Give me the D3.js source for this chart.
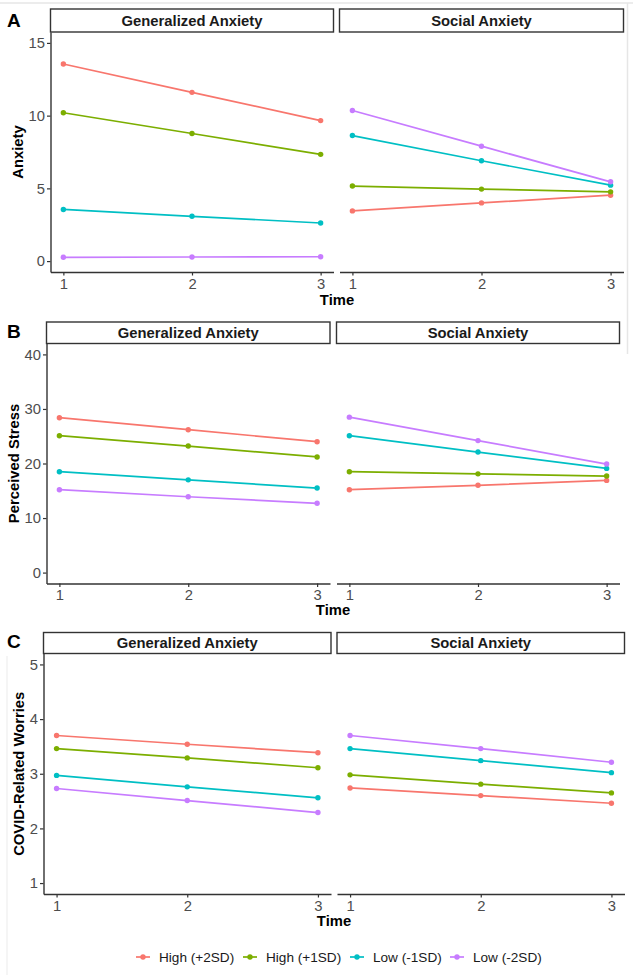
<!DOCTYPE html>
<html>
<head>
<meta charset="utf-8">
<script src="https://cdn.jsdelivr.net/npm/d3@7"></script>
<style>
  html, body { margin: 0; padding: 0; background: #fff; }
  svg { display: block; font-family: "Liberation Sans", Arial, Helvetica, sans-serif; }
</style>
</head>
<body>
<svg id="chart" width="633" height="978"></svg>
<script>
// ---------------- data ----------------
const timePoints = [1, 2, 3];
const facetNames = ["Generalized Anxiety", "Social Anxiety"];
const groupLabels = ["High (+2SD)", "High (+1SD)", "Low (-1SD)", "Low (-2SD)"];
const groupColors = ["#F8766D", "#7CAE00", "#00BFC4", "#C77CFF"];

// rows follow groupLabels order; columns follow timePoints
const anxietyGeneralized = [[13.55, 11.6, 9.66], [10.2, 8.77, 7.34], [3.55, 3.08, 2.62], [0.26, 0.28, 0.30]];
const anxietySocial      = [[3.45, 4.0, 4.53], [5.16, 4.95, 4.76], [8.63, 6.9, 5.22], [10.35, 7.9, 5.45]];
const stressGeneralized  = [[28.4, 26.2, 24.0], [25.1, 23.2, 21.2], [18.5, 17.0, 15.5], [15.2, 13.9, 12.7]];
const stressSocial       = [[15.2, 16.0, 16.9], [18.5, 18.1, 17.7], [25.1, 22.1, 19.1], [28.5, 24.2, 19.9]];
const worriesGeneralized = [[3.70, 3.54, 3.385], [3.46, 3.29, 3.11], [2.97, 2.76, 2.56], [2.73, 2.51, 2.29]];
const worriesSocial      = [[2.74, 2.60, 2.46], [2.98, 2.81, 2.65], [3.46, 3.24, 3.02], [3.70, 3.46, 3.21]];

const anxietyTicks = [0, 5, 10, 15];
const stressTicks = [0, 10, 20, 30, 40];
const worriesTicks = [1, 2, 3, 4, 5];
const xTitle = "Time";

// ---------------- layout ----------------
const svg = d3.select("#chart");
const FS = 14.8;
const axisColor = "#333333";
const tickTextColor = "#4D4D4D";

// faint frame artefacts
svg.append("line").attr("x1", 0).attr("x2", 633).attr("y1", 3).attr("y2", 3)
  .attr("stroke", "#e6e6e6").attr("stroke-width", 1.5);
svg.append("line").attr("x1", 627.5).attr("x2", 627.5).attr("y1", 3).attr("y2", 354)
  .attr("stroke", "#e6e6e6").attr("stroke-width", 1.5);
svg.append("line").attr("x1", 7).attr("x2", 7).attr("y1", 656).attr("y2", 975)
  .attr("stroke", "#efefef").attr("stroke-width", 1.2);

const panels = [
  { letter: "A", letterY: 27, letterX: 7, stripTop: 9, stripBottom: 32, plotBottom: 272,
    facetX: [[50.5, 333.5], [339.5, 623.5]], ticks: anxietyTicks,
    data: [anxietyGeneralized, anxietySocial], yTitle: "Anxiety", yTitleX: 18, timeY: 300 },
  { letter: "B", letterY: 338, letterX: 7, stripTop: 322, stripBottom: 343.5, plotBottom: 583.5,
    facetX: [[46.5, 330], [336.5, 619.5]], ticks: stressTicks,
    data: [stressGeneralized, stressSocial], yTitle: "Perceived Stress", yTitleX: 14, timeY: 610 },
  { letter: "C", letterY: 648, letterX: 7, stripTop: 632.5, stripBottom: 653.5, plotBottom: 894,
    facetX: [[43.5, 331], [337, 624.5]], ticks: worriesTicks,
    data: [worriesGeneralized, worriesSocial], yTitle: "COVID-Related Worries", yTitleX: 19, timeY: 921 }
];

panels.forEach(p => {
  const g = svg.append("g");
  const lo = d3.min(p.ticks), hi = d3.max(p.ticks), pad = (hi - lo) * 0.05;
  const y = d3.scaleLinear().domain([lo - pad, hi + pad]).range([p.plotBottom, p.stripBottom]);

  // panel letter
  g.append("text").attr("x", p.letterX).attr("y", p.letterY)
    .attr("font-size", 19).attr("font-weight", "bold").attr("fill", "#000").text(p.letter);

  p.facetX.forEach((range, fi) => {
    const x = d3.scaleLinear().domain([0.9, 3.1]).range(range);

    // strip
    g.append("rect").attr("x", range[0]).attr("y", p.stripTop)
      .attr("width", range[1] - range[0]).attr("height", p.stripBottom - p.stripTop)
      .attr("fill", "#fff").attr("stroke", axisColor).attr("stroke-width", 1.4);
    g.append("text").attr("x", (range[0] + range[1]) / 2).attr("y", (p.stripTop + p.stripBottom) / 2)
      .attr("dy", "0.36em").attr("text-anchor", "middle").attr("font-size", FS)
      .attr("font-weight", "bold").attr("fill", "#1A1A1A").text(facetNames[fi]);

    // x axis
    const xa = g.append("g").attr("transform", `translate(0,${p.plotBottom})`)
      .call(d3.axisBottom(x).tickValues(timePoints).tickFormat(d3.format("d"))
        .tickSize(3.5).tickPadding(2.5).tickSizeOuter(0));
    xa.attr("font-size", FS).attr("font-family", null);
    xa.select(".domain").attr("stroke", axisColor).attr("stroke-width", 1.4);
    xa.selectAll(".tick line").attr("stroke", axisColor).attr("stroke-width", 1.2);
    xa.selectAll(".tick text").attr("fill", tickTextColor);

    // y axis only on first facet
    if (fi === 0) {
      const ya = g.append("g").attr("transform", `translate(${range[0]},0)`)
        .call(d3.axisLeft(y).tickValues(p.ticks).tickFormat(d3.format("d"))
          .tickSize(3.5).tickPadding(2).tickSizeOuter(0));
      ya.attr("font-size", FS).attr("font-family", null);
      ya.select(".domain").attr("stroke", axisColor).attr("stroke-width", 1.4);
      ya.selectAll(".tick line").attr("stroke", axisColor).attr("stroke-width", 1.2);
      ya.selectAll(".tick text").attr("fill", tickTextColor);
    }

    // series
    const line = d3.line().x((d, i) => x(timePoints[i])).y(d => y(d));
    p.data[fi].forEach((vals, gi) => {
      g.append("path").datum(vals).attr("d", line).attr("fill", "none")
        .attr("stroke", groupColors[gi]).attr("stroke-width", 1.7);
      g.selectAll(null).data(vals).enter().append("circle")
        .attr("cx", (d, i) => x(timePoints[i])).attr("cy", d => y(d)).attr("r", 2.7)
        .attr("fill", groupColors[gi]);
    });
  });

  // y title
  const midY = (p.stripBottom + p.plotBottom) / 2;
  g.append("text").attr("transform", `translate(${p.yTitleX},${midY}) rotate(-90)`)
    .attr("dy", "0.36em").attr("text-anchor", "middle").attr("font-size", FS)
    .attr("font-weight", "bold").attr("fill", "#000").text(p.yTitle);

  // x title
  g.append("text").attr("x", (p.facetX[0][0] + p.facetX[1][1]) / 2).attr("y", p.timeY)
    .attr("dy", "0.36em").attr("text-anchor", "middle").attr("font-size", FS)
    .attr("font-weight", "bold").attr("fill", "#000").text(xTitle);
});

// ---------------- legend ----------------
const legendY = 957;
const legendStarts = [136, 243, 350, 450];
const legend = svg.append("g");
groupLabels.forEach((lab, i) => {
  const lx = legendStarts[i];
  legend.append("line").attr("x1", lx).attr("x2", lx + 14).attr("y1", legendY).attr("y2", legendY)
    .attr("stroke", groupColors[i]).attr("stroke-width", 1.7);
  legend.append("circle").attr("cx", lx + 7).attr("cy", legendY).attr("r", 2.7).attr("fill", groupColors[i]);
  legend.append("text").attr("x", lx + 23).attr("y", legendY).attr("dy", "0.36em")
    .attr("font-size", 13.6).attr("fill", "#1A1A1A").text(lab);
});
</script>
</body>
</html>
